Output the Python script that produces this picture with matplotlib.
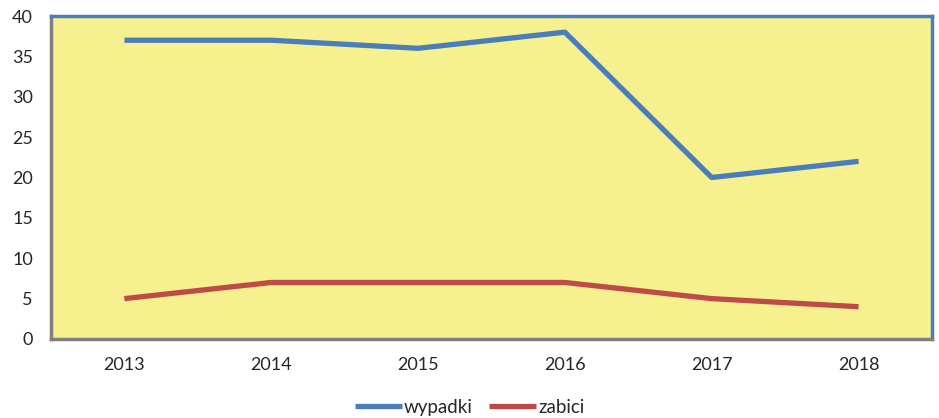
import matplotlib.pyplot as plt

plt.rcParams['font.family'] = ['Lato', 'DejaVu Sans']

years = ['2013', '2014', '2015', '2016', '2017', '2018']
wypadki = [37, 37, 36, 38, 20, 22]
zabici = [5, 7, 7, 7, 5, 4]

fig = plt.figure(figsize=(9.39, 4.18), dpi=100)
ax = fig.add_axes([0.0543, 0.189, 0.9382, 0.7727])
ax.set_facecolor('#F7F08F')

x = range(len(years))
ax.plot(x, wypadki, color='#4A7EBB', lw=3.8, label='wypadki', solid_capstyle='butt')
ax.plot(x, zabici, color='#BE4B48', lw=3.8, label='zabici', solid_capstyle='butt')

ax.set_xlim(-0.5, len(years) - 0.5)
ax.set_ylim(0, 40)
ax.set_yticks(range(0, 41, 5))
ax.set_xticks(list(x))
ax.set_xticklabels(years)
ax.tick_params(axis='both', length=0, labelsize=13, colors='#262626')
ax.tick_params(axis='x', pad=13)
ax.tick_params(axis='y', pad=13)

for side in ['left', 'bottom']:
    ax.spines[side].set_color('#7F7F7F')
    ax.spines[side].set_linewidth(2.5)
for side in ['top', 'right']:
    ax.spines[side].set_color('#4A7EBB')
    ax.spines[side].set_linewidth(2.5)

fig.legend(loc='lower center', bbox_to_anchor=(0.5, -0.035), ncol=2, frameon=False,
           fontsize=13.5, handlelength=2.5, handletextpad=0.1, columnspacing=0.9,
           labelcolor='#262626')

fig.savefig('out.png', dpi=100)
